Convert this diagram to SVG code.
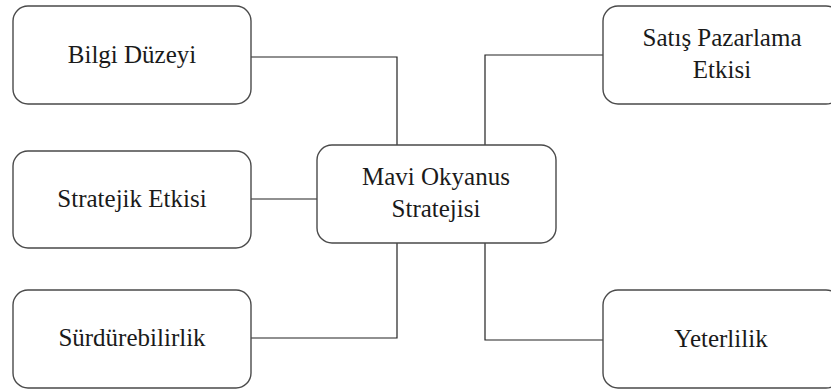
<svg xmlns="http://www.w3.org/2000/svg" width="831" height="392" viewBox="0 0 831 392">
<style>
.box{fill:#fff;stroke:#4a4a4a;stroke-width:1.4}
.t{font-family:'Liberation Serif','Times New Roman',serif;font-size:25px;fill:#1a1a1a;text-anchor:middle}
.c{fill:none;stroke:#222;stroke-width:1.2}
</style>
<rect width="831" height="392" fill="#fff"/>
<g id="connectors">
<polyline class="c" points="251,57 397,57 397,145"/>
<line class="c" x1="251" y1="199" x2="317" y2="199"/>
<polyline class="c" points="251,338 397,338 397,243"/>
<polyline class="c" points="603,55 485,55 485,145"/>
<polyline class="c" points="603,340 485,340 485,243"/>
</g>
<g id="bilgi">
<rect class="box" x="13" y="6" width="238" height="98" rx="15"/>
<text class="t" x="132" y="63">Bilgi Düzeyi</text>
</g>
<g id="stratejik">
<rect class="box" x="13" y="151" width="238" height="97" rx="15"/>
<text class="t" x="132" y="207">Stratejik Etkisi</text>
</g>
<g id="surdurebilirlik">
<rect class="box" x="13" y="290" width="238" height="98" rx="15"/>
<text class="t" x="132" y="346">Sürdürebilirlik</text>
</g>
<g id="mavi">
<rect class="box" x="317" y="145" width="239" height="98" rx="15"/>
<text class="t" x="436" y="185">Mavi Okyanus</text>
<text class="t" x="436" y="217">Stratejisi</text>
</g>
<g id="satis">
<rect class="box" x="603" y="6" width="238" height="98" rx="15"/>
<text class="t" x="722" y="46">Satış Pazarlama</text>
<text class="t" x="722" y="78">Etkisi</text>
</g>
<g id="yeterlilik">
<rect class="box" x="603" y="290" width="238" height="98" rx="15"/>
<text class="t" x="721" y="347">Yeterlilik</text>
</g>
</svg>
